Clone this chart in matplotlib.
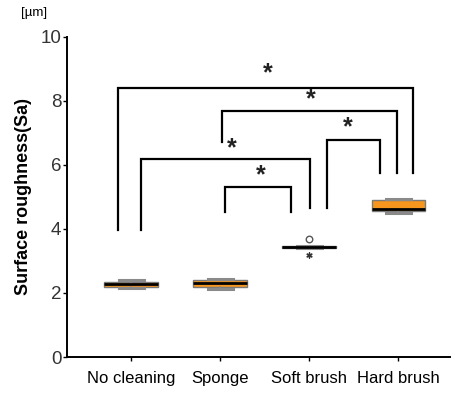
import matplotlib
matplotlib.use("Agg")
import matplotlib.pyplot as plt

plt.rcParams['font.family'] = ['Liberation Sans', 'DejaVu Sans']

categories = ["No cleaning", "Sponge", "Soft brush", "Hard brush"]
q1 = [2.19, 2.20, 3.42, 4.55]
median = [2.27, 2.30, 3.44, 4.64]
q3 = [2.34, 2.42, 3.46, 4.90]
whislo = [2.16, 2.14, 3.40, 4.50]
whishi = [2.42, 2.45, 3.48, 4.93]

outlier_circle_x = [3]
outlier_circle_y = [3.68]
outlier_star_x = [3]
outlier_star_y = [3.18]

# significance brackets: (x_left, y_left_bottom, x_right, y_right_bottom, y_top)
brackets = [
    (0.85, 3.97, 4.16, 5.75, 8.41),
    (2.02, 6.72, 3.99, 5.75, 7.69),
    (3.20, 4.66, 3.79, 5.75, 6.78),
    (1.11, 3.97, 3.01, 4.66, 6.19),
    (2.06, 4.53, 2.79, 4.53, 5.31),
]
star_x = [2.54, 3.02, 3.43, 2.13, 2.46]
star_y = [8.88, 8.06, 7.19, 6.53, 5.69]

yticks = [0, 2, 4, 6, 8, 10]

fig = plt.figure(figsize=(4.55, 3.93), dpi=100)
ax = fig.add_axes([0.147, 0.0916, 0.842, 0.8143])

positions = list(range(1, len(categories) + 1))
stats = []
for i in range(len(categories)):
    stats.append(dict(med=median[i], q1=q1[i], q3=q3[i],
                      whislo=whislo[i], whishi=whishi[i], fliers=[]))
ax.bxp(stats, positions=positions, widths=0.6, patch_artist=True,
       showfliers=False, capwidths=0.28,
       boxprops=dict(facecolor='#F7961E', edgecolor='#7a7a7a', linewidth=1),
       medianprops=dict(color='black', linewidth=2),
       whiskerprops=dict(color='#888888', linewidth=1.2),
       capprops=dict(color='#8a8a8a', linewidth=2.2))

ax.scatter(outlier_circle_x, outlier_circle_y, s=22, facecolors='white',
           edgecolors='#555555', linewidths=1, zorder=3)
ax.scatter(outlier_star_x, outlier_star_y, marker=(6, 2, 0), s=14,
           color='#333333', linewidths=1, zorder=3)

for xl, yl, xr, yr, yt in brackets:
    ax.plot([xl, xl, xr, xr], [yl, yt, yt, yr], color='black',
            linewidth=1.6, solid_joinstyle='miter', clip_on=False)
for sx, sy in zip(star_x, star_y):
    ax.text(sx, sy, "*", ha='center', va='center', fontsize=18,
            fontweight='bold', color='#222222')

ax.set_xlim(0.28, 4.58)
ax.set_ylim(0, 10)
ax.set_xticks(positions)
ax.set_xticklabels(categories, fontsize=12)
ax.set_yticks(yticks)
ax.set_yticklabels([str(v) for v in yticks], fontsize=13.5, color='#333333')
ax.tick_params(axis='y', length=3, width=1, pad=1)
ax.tick_params(axis='x', length=3, width=1, pad=7)
for s in ['top', 'right']:
    ax.spines[s].set_visible(False)
for s in ['left', 'bottom']:
    ax.spines[s].set_linewidth(1.4)

ax.set_ylabel("Surface roughness(Sa)", fontsize=13, fontweight='bold', labelpad=6)
fig.text(34 / 455, 1 - 13 / 393, "[µm]", fontsize=9.5, ha='center', va='center')

fig.savefig("out.png", dpi=100)
